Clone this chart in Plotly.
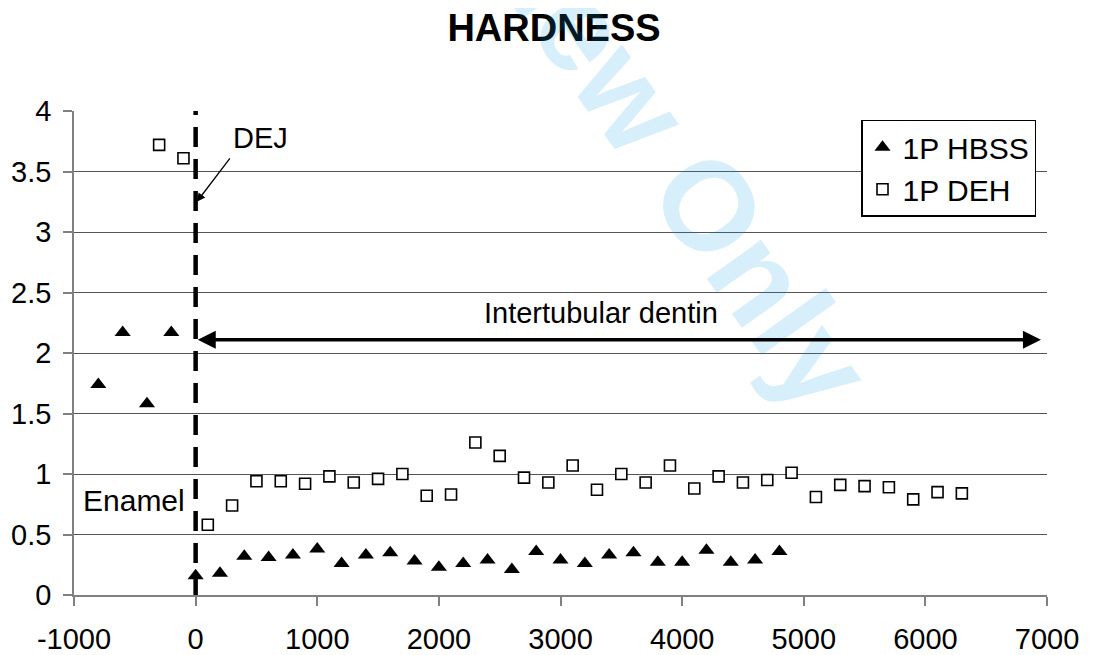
import plotly.graph_objects as go

# ---- data ----
x_hbss = [-800, -600, -400, -200, 0, 200, 400, 600, 800, 1000, 1200, 1400, 1600,
          1800, 2000, 2200, 2400, 2600, 2800, 3000, 3200, 3400, 3600, 3800, 4000,
          4200, 4400, 4600, 4800]
hbss = [1.74, 2.17, 1.58, 2.17, 0.16, 0.18, 0.32, 0.31, 0.33, 0.38, 0.26, 0.33, 0.35,
        0.28, 0.23, 0.26, 0.29, 0.21, 0.36, 0.29, 0.26, 0.33, 0.35, 0.27, 0.27,
        0.37, 0.27, 0.29, 0.36]

x_deh = [-300, -100, 100, 300, 500, 700, 900, 1100, 1300, 1500, 1700, 1900, 2100,
         2300, 2500, 2700, 2900, 3100, 3300, 3500, 3700, 3900, 4100, 4300, 4500,
         4700, 4900, 5100, 5300, 5500, 5700, 5900, 6100, 6300]
deh = [3.72, 3.61, 0.58, 0.74, 0.94, 0.94, 0.92, 0.98, 0.93, 0.96, 1.00, 0.82, 0.83,
       1.26, 1.15, 0.97, 0.93, 1.07, 0.87, 1.00, 0.93, 1.07, 0.88, 0.98, 0.93,
       0.95, 1.01, 0.81, 0.91, 0.90, 0.89, 0.79, 0.85, 0.84]

x_tickvals = [-1000, 0, 1000, 2000, 3000, 4000, 5000, 6000, 7000]
x_ticktext = ["-1000", "0", "1000", "2000", "3000", "4000", "5000", "6000", "7000"]
y_tickvals = [0, 0.5, 1, 1.5, 2, 2.5, 3, 3.5, 4]
y_ticktext = ["0", "0.5", "1", "1.5", "2", "2.5", "3", "3.5", "4"]

DEJ_X = 0
DENTIN_END = 6950
DENTIN_Y = 2.11

FONT = "Liberation Sans, Arial, sans-serif"

# page body has an 8px margin; size the figure so it fits the 1093x655 window
W, H = 1085, 647

fig = go.Figure()
fig.add_trace(go.Scatter(
    x=x_hbss, y=hbss, mode="markers", name="1P HBSS",
    marker=dict(symbol="triangle-up", size=14, color="black",
                line=dict(width=0))))
fig.add_trace(go.Scatter(
    x=x_deh, y=deh, mode="markers", name="1P DEH",
    marker=dict(symbol="square", size=11, color="white",
                line=dict(width=1.6, color="black"))))

# DEJ dashed line
fig.add_shape(type="line", xref="x", yref="y", x0=DEJ_X, x1=DEJ_X, y0=0, y1=4,
              line=dict(color="black", width=4.5, dash="20px,12px"), layer="above")

annotations = [
    # watermark
    dict(text="<b>Review Only</b>", xref="paper", yref="paper", x=0.567, y=1.045,
         xanchor="center", yanchor="middle", showarrow=False, textangle=54.5,
         font=dict(family=FONT, size=126, color="rgba(0,158,227,0.16)")),
    # DEJ label + arrow
    dict(text="DEJ", x=530, y=3.78, xref="x", yref="y", showarrow=False,
         font=dict(family=FONT, size=29, color="black")),
    dict(text="", x=10, y=3.25, ax=291, ay=3.62, xref="x", yref="y",
         axref="x", ayref="y", showarrow=True, arrowhead=2, arrowsize=1.3,
         arrowwidth=1.3, arrowcolor="black"),
    # Intertubular dentin
    dict(text="Intertubular dentin", x=3334, y=2.33, xref="x", yref="y",
         showarrow=False, font=dict(family=FONT, size=29, color="black")),
    dict(text="", x=DENTIN_END, y=DENTIN_Y, ax=DEJ_X + 5, ay=DENTIN_Y,
         xref="x", yref="y", axref="x", ayref="y", showarrow=True,
         arrowhead=2, arrowside="end+start", arrowsize=1.0, arrowwidth=3.6,
         arrowcolor="black"),
    # Enamel
    dict(text="Enamel", x=-507, y=0.785, xref="x", yref="y", showarrow=False,
         font=dict(family=FONT, size=30, color="black")),
]

fig.update_layout(
    width=W, height=H,
    margin=dict(l=66, r=46, t=103, b=60, autoexpand=False),
    paper_bgcolor="white", plot_bgcolor="white",
    font=dict(family=FONT, size=29, color="black"),
    title=dict(text="<b>HARDNESS</b>", x=546 / W, xanchor="center",
               y=1 - 20 / H, yanchor="middle",
               font=dict(family=FONT, size=38, color="black")),
    showlegend=True,
    legend=dict(x=0.9887, y=0.982, xanchor="right", yanchor="top",
                bgcolor="white", bordercolor="black", borderwidth=1.5,
                font=dict(family=FONT, size=30, color="black"),
                itemwidth=30, tracegroupgap=0),
    annotations=annotations,
)

fig.update_xaxes(range=[-1000, 7000], tickvals=x_tickvals, ticktext=x_ticktext,
                 showgrid=False, zeroline=False, showline=True, automargin=False,
                 linecolor="#808080", linewidth=1.5, ticks="outside", ticklen=9,
                 tickcolor="#808080", tickwidth=1.5, ticklabelstandoff=8,
                 tickfont=dict(family=FONT, size=29, color="black"))
fig.update_yaxes(range=[0, 4], tickvals=y_tickvals, ticktext=y_ticktext,
                 showgrid=True, gridcolor="#555555", gridwidth=1,
                 zeroline=False, showline=True, automargin=False,
                 linecolor="#808080", linewidth=1.5, ticks="outside", ticklen=9,
                 tickcolor="#808080", tickwidth=1.5, ticklabelstandoff=6,
                 tickfont=dict(family=FONT, size=29, color="black"))

fig.write_html("out.html")
